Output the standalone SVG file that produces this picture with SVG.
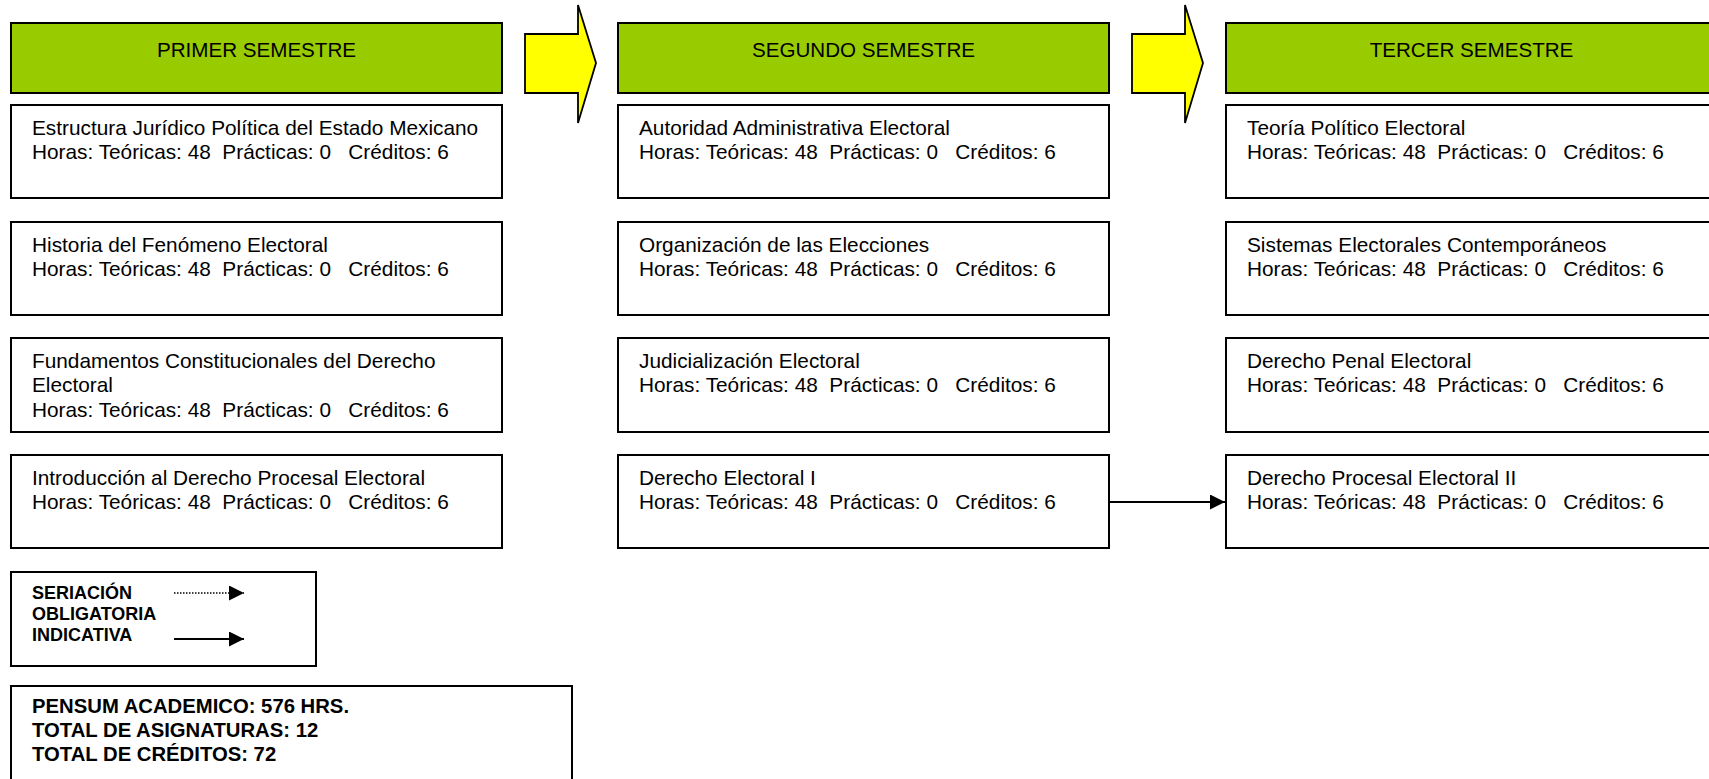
<svg xmlns="http://www.w3.org/2000/svg" width="1709" height="779" viewBox="0 0 1709 779">
<style>
.hdr{fill:#99CC00;stroke:#000;stroke-width:2}
.box{fill:#fff;stroke:#000;stroke-width:2}
.big{fill:#FFFF00;stroke:#000;stroke-width:1.8;stroke-linejoin:miter}
.t{font-family:"Liberation Sans",Arial,sans-serif;font-size:20.8px;fill:#000}
.h{font-family:"Liberation Sans",Arial,sans-serif;font-size:20.6px;fill:#000;text-anchor:middle}
.b{font-family:"Liberation Sans",Arial,sans-serif;font-size:18px;font-weight:bold;fill:#000}
.p{font-family:"Liberation Sans",Arial,sans-serif;font-size:20.3px;font-weight:bold;fill:#000}
.ln{stroke:#000;stroke-width:1.8;fill:none}
.dot{stroke:#000;stroke-width:1.6;fill:none;stroke-dasharray:1.5 1.5}
</style>
<defs>
<marker id="ah" markerWidth="15" markerHeight="15" refX="15" refY="7.5" orient="auto" markerUnits="userSpaceOnUse">
<path d="M0,0 L15,7.5 L0,15 Z" fill="#000"/>
</marker>
</defs>

<g id="sem1">
<rect class="hdr" x="11" y="23" width="491" height="70"/>
<text class="h" x="256.5" y="57">PRIMER SEMESTRE</text>
</g>
<g id="sem2">
<rect class="hdr" x="618" y="23" width="491" height="70"/>
<text class="h" x="863.5" y="57">SEGUNDO SEMESTRE</text>
</g>
<g id="sem3">
<rect class="hdr" x="1226" y="23" width="491" height="70"/>
<text class="h" x="1471.5" y="57">TERCER SEMESTRE</text>
</g>

<g id="flow1"><polygon class="big" points="525,34 578,34 578,5 596,63 578,123 578,93 525,93"/></g>
<g id="flow2"><polygon class="big" points="1132,34 1185,34 1185,5 1203,63 1185,123 1185,93 1132,93"/></g>

<g id="c1r1">
<rect class="box" x="11" y="105" width="491" height="93"/>
<text class="t" x="32" y="135">Estructura Jurídico Política del Estado Mexicano</text>
<text class="t" x="32" y="159" xml:space="preserve">Horas: Teóricas: 48  Prácticas: 0   Créditos: 6</text>
</g>
<g id="c1r2">
<rect class="box" x="11" y="222" width="491" height="93"/>
<text class="t" x="32" y="252">Historia del Fenómeno Electoral</text>
<text class="t" x="32" y="276" xml:space="preserve">Horas: Teóricas: 48  Prácticas: 0   Créditos: 6</text>
</g>
<g id="c1r3">
<rect class="box" x="11" y="338" width="491" height="94"/>
<text class="t" x="32" y="368">Fundamentos Constitucionales del Derecho</text>
<text class="t" x="32" y="392">Electoral</text>
<text class="t" x="32" y="417" xml:space="preserve">Horas: Teóricas: 48  Prácticas: 0   Créditos: 6</text>
</g>
<g id="c1r4">
<rect class="box" x="11" y="455" width="491" height="93"/>
<text class="t" x="32" y="485">Introducción al Derecho Procesal Electoral</text>
<text class="t" x="32" y="509" xml:space="preserve">Horas: Teóricas: 48  Prácticas: 0   Créditos: 6</text>
</g>

<g id="c2r1">
<rect class="box" x="618" y="105" width="491" height="93"/>
<text class="t" x="639" y="135">Autoridad Administrativa Electoral</text>
<text class="t" x="639" y="159" xml:space="preserve">Horas: Teóricas: 48  Prácticas: 0   Créditos: 6</text>
</g>
<g id="c2r2">
<rect class="box" x="618" y="222" width="491" height="93"/>
<text class="t" x="639" y="252">Organización de las Elecciones</text>
<text class="t" x="639" y="276" xml:space="preserve">Horas: Teóricas: 48  Prácticas: 0   Créditos: 6</text>
</g>
<g id="c2r3">
<rect class="box" x="618" y="338" width="491" height="94"/>
<text class="t" x="639" y="368">Judicialización Electoral</text>
<text class="t" x="639" y="392" xml:space="preserve">Horas: Teóricas: 48  Prácticas: 0   Créditos: 6</text>
</g>
<g id="c2r4">
<rect class="box" x="618" y="455" width="491" height="93"/>
<text class="t" x="639" y="485">Derecho Electoral I</text>
<text class="t" x="639" y="509" xml:space="preserve">Horas: Teóricas: 48  Prácticas: 0   Créditos: 6</text>
</g>

<g id="c3r1">
<rect class="box" x="1226" y="105" width="491" height="93"/>
<text class="t" x="1247" y="135">Teoría Político Electoral</text>
<text class="t" x="1247" y="159" xml:space="preserve">Horas: Teóricas: 48  Prácticas: 0   Créditos: 6</text>
</g>
<g id="c3r2">
<rect class="box" x="1226" y="222" width="491" height="93"/>
<text class="t" x="1247" y="252">Sistemas Electorales Contemporáneos</text>
<text class="t" x="1247" y="276" xml:space="preserve">Horas: Teóricas: 48  Prácticas: 0   Créditos: 6</text>
</g>
<g id="c3r3">
<rect class="box" x="1226" y="338" width="491" height="94"/>
<text class="t" x="1247" y="368">Derecho Penal Electoral</text>
<text class="t" x="1247" y="392" xml:space="preserve">Horas: Teóricas: 48  Prácticas: 0   Créditos: 6</text>
</g>
<g id="c3r4">
<rect class="box" x="1226" y="455" width="491" height="93"/>
<text class="t" x="1247" y="485">Derecho Procesal Electoral II</text>
<text class="t" x="1247" y="509" xml:space="preserve">Horas: Teóricas: 48  Prácticas: 0   Créditos: 6</text>
</g>

<g id="connectors">
<line class="ln" x1="1109" y1="502" x2="1225" y2="502" marker-end="url(#ah)"/>
</g>

<g id="legend">
<rect class="box" x="11" y="572" width="305" height="94"/>
<text class="b" x="32" y="599">SERIACIÓN</text>
<text class="b" x="32" y="620">OBLIGATORIA</text>
<text class="b" x="32" y="641">INDICATIVA</text>
<line class="dot" x1="174" y1="593" x2="244" y2="593" marker-end="url(#ah)"/>
<line class="ln" x1="174" y1="639" x2="244" y2="639" marker-end="url(#ah)"/>
</g>

<g id="totals">
<rect class="box" x="11" y="686" width="561" height="110"/>
<text class="p" x="32" y="713">PENSUM ACADEMICO: 576 HRS.</text>
<text class="p" x="32" y="737">TOTAL DE ASIGNATURAS: 12</text>
<text class="p" x="32" y="761">TOTAL DE CRÉDITOS: 72</text>
</g>
</svg>
